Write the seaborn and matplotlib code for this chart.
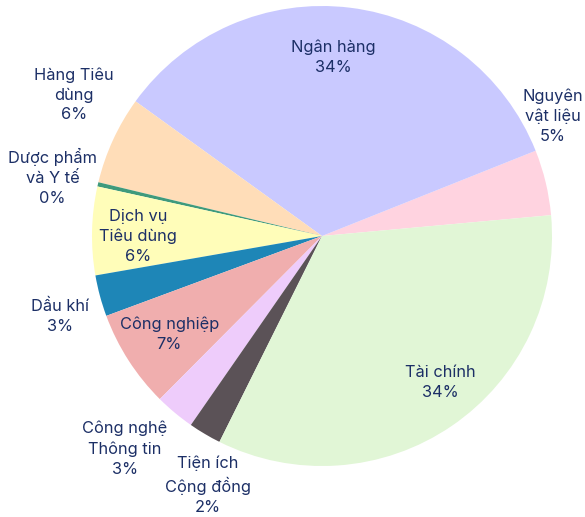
import numpy as np
import matplotlib
matplotlib.use("Agg")
import matplotlib.pyplot as plt
import seaborn as sns

# sector shares (%), in drawing order counterclockwise
sectors = ["Nguyên\nvật liệu", "Ngân hàng", "Hàng Tiêu\ndùng", "Dược phẩm\nvà Y tế",
           "Dịch vụ\nTiêu dùng", "Dầu khí", "Công nghiệp", "Công nghệ\nThông tin",
           "Tiện ích\nCộng đồng", "Tài chính"]
shares = [4.6, 34.0, 6.2, 0.3, 6.2, 2.9, 6.9, 2.8, 2.3, 33.8]
colors = ["#FFD3E0", "#C9C9FF", "#FFDDB8", "#3F9A7C", "#FFFDB9",
          "#1E86B7", "#F0AEAE", "#EECCFB", "#5B5257", "#E1F6D6"]

# label placement: (radius, angle nudge in degrees)
label_pos = [(1.13, 14), (0.78, 3.5), (1.24, -5), (1.20, 0.6), (0.80, 1.4),
             (1.19, 2), (0.79, 0), (1.26, -3), (1.19, 6), (0.82, 4.5)]

sns.set_theme(style="white")
plt.rcParams["font.family"] = ["Inter", "DejaVu Sans"]

fig = plt.figure(figsize=(5.85, 5.17), dpi=100)
cx, cy, r = 322, 236, 230
ax = fig.add_axes([(cx - r) / 585, (517 - cy - r) / 517, 2 * r / 585, 2 * r / 517])

wedges, _ = ax.pie(shares, colors=colors, startangle=5.2, counterclock=True,
                   radius=1, wedgeprops=dict(linewidth=0))

total = sum(shares)
for w, name, val, (rr, dt) in zip(wedges, sectors, shares, label_pos):
    mid = np.deg2rad((w.theta1 + w.theta2) / 2 + dt)
    ax.text(rr * np.cos(mid), rr * np.sin(mid), f"{name}\n{round(val / total * 100)}%",
            ha="center", va="center", fontsize=11.8, color="#1C2F66", linespacing=1.4)

ax.set_xlim(-1, 1)
ax.set_ylim(-1, 1)
ax.set_aspect("equal")
ax.axis("off")

fig.savefig("out.png", dpi=100)
